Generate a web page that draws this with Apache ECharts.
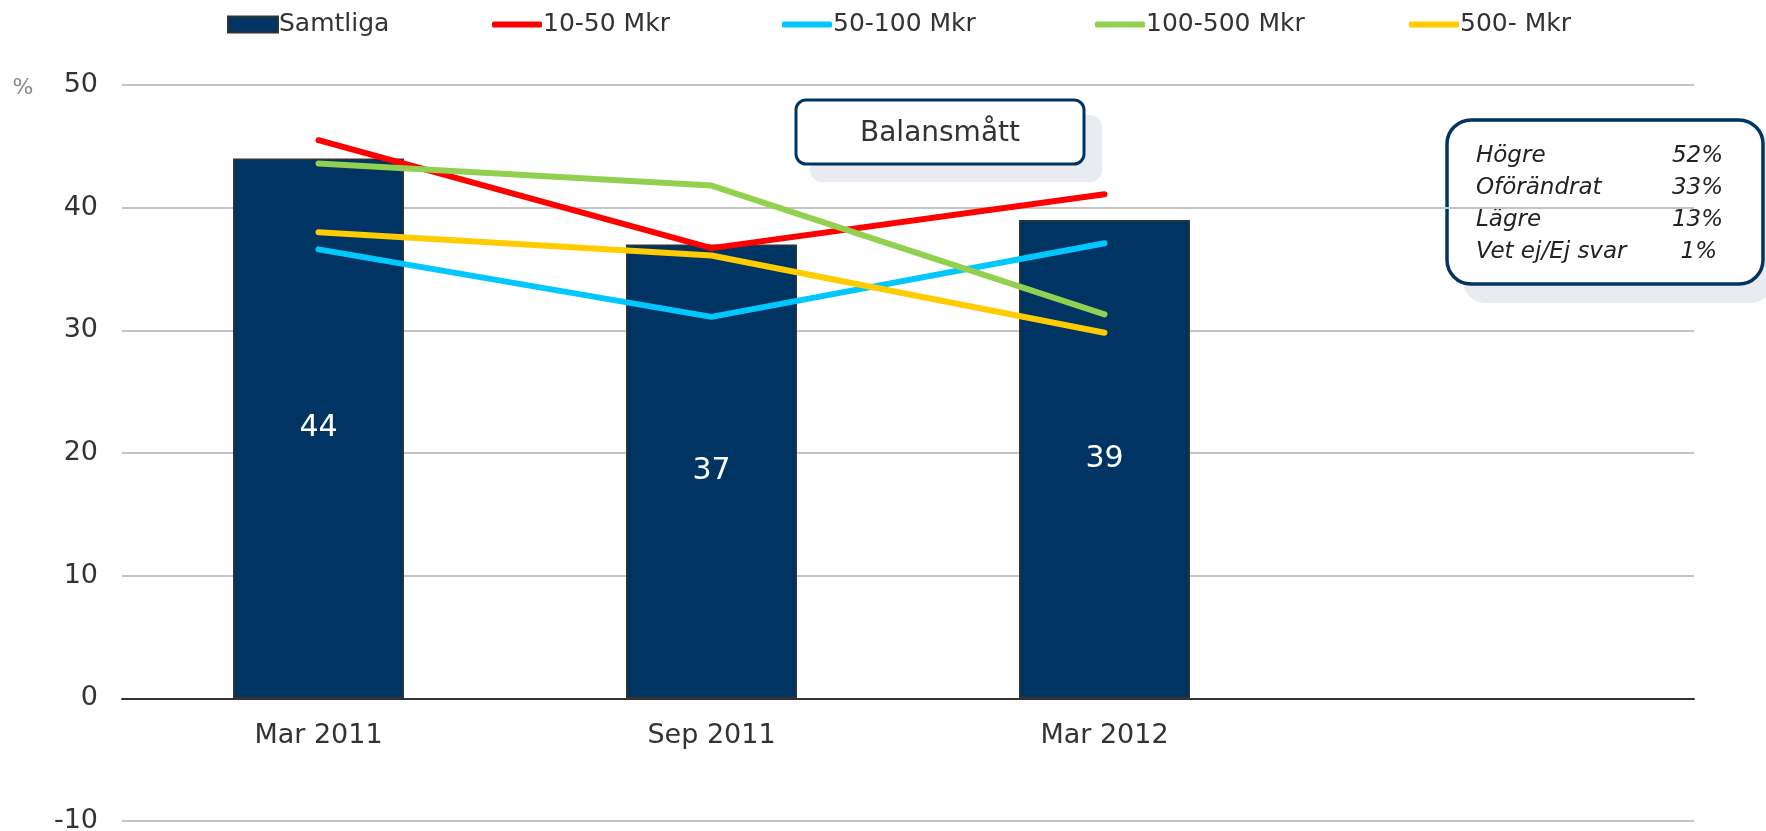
<!DOCTYPE html>
<html>
<head>
<meta charset="utf-8">
<script src="https://cdn.jsdelivr.net/npm/echarts@6/dist/echarts.min.js"></script>
<style>
  html, body { margin: 0; padding: 0; background: #fff; }
  #main { width: 1766px; height: 831px; }
</style>
</head>
<body>
<div id="main"></div>
<script>
var categories = ['Mar 2011', 'Sep 2011', 'Mar 2012', ''];
var samtliga = [44, 37, 39, '-'];
var mkr10_50 = [45.5, 36.7, 41.1, '-'];
var mkr50_100 = [36.6, 31.1, 37.1, '-'];
var mkr100_500 = [43.6, 41.8, 31.3, '-'];
var mkr500 = [38.0, 36.1, 29.8, '-'];
var yTicks = { min: -10, max: 50, interval: 10 };
var boxRows = [['Högre', '52%'], ['Oförändrat', '33%'], ['Lägre', '13%'], ['Vet ej/Ej svar', '1%']];

var font = 'DejaVu Sans';
var navy = '#003462';

function lineSeries(name, data, color) {
    return {
        name: name,
        type: 'line',
        data: data,
        showSymbol: false,
        symbol: 'none',
        z: 3,
        lineStyle: { color: color, width: 6, cap: 'round', join: 'round' },
        itemStyle: { color: color }
    };
}

function legendItem(name, left, isBar) {
    return {
        left: left,
        top: 7,
        data: [{ name: name, icon: isBar ? 'rect' : 'roundRect' }],
        itemWidth: 50,
        itemHeight: isBar ? 16 : 6,
        itemGap: 4,
        textStyle: { fontFamily: font, fontSize: 25, color: '#333', padding: [0, 0, 0, -4] }
    };
}

// annotation boxes
var graphics = [
    { type: 'rect', shape: { x: 810, y: 115, width: 292, height: 67, r: 12 }, style: { fill: '#e8ecf0' } },
    { type: 'rect', shape: { x: 796, y: 100, width: 288, height: 64, r: 10 }, style: { fill: '#fff', stroke: navy, lineWidth: 3 } },
    { type: 'text', x: 940, y: 134, style: { text: 'Balansmått', fontFamily: font, fontSize: 28, fill: '#333', align: 'center', verticalAlign: 'middle' } },
    { type: 'rect', shape: { x: 1463, y: 130, width: 310, height: 173, r: 22 }, style: { fill: '#e8ecf0' } },
    { type: 'rect', shape: { x: 1447, y: 120, width: 316, height: 164, r: 24 }, style: { fill: '#fff', stroke: navy, lineWidth: 3.5 } }
];
boxRows.forEach(function (row, i) {
    var y = 156 + i * 32;
    graphics.push({ type: 'text', x: 1476, y: y, style: { text: row[0], fontFamily: font, fontStyle: 'italic', fontSize: 23, fill: '#222', verticalAlign: 'middle' } });
    graphics.push({ type: 'text', x: i === 3 ? 1717 : 1723, y: y, style: { text: row[1], fontFamily: font, fontStyle: 'italic', fontSize: 23, fill: '#222', align: 'right', verticalAlign: 'middle' } });
});
graphics.push({ type: 'text', x: 23, y: 88, style: { text: '%', fontFamily: font, fontSize: 22, fill: '#888', align: 'center', verticalAlign: 'middle' } });

var option = {
    animation: false,
    backgroundColor: '#fff',
    legend: [
        legendItem('Samtliga', 222, true),
        legendItem('10-50 Mkr', 487, false),
        legendItem('50-100 Mkr', 777, false),
        legendItem('100-500 Mkr', 1090, false),
        legendItem('500- Mkr', 1404, false)
    ],
    grid: { left: 122, right: 72, top: 85, bottom: 10, containLabel: false, outerBoundsMode: 'none' },
    xAxis: [
        {
            type: 'category',
            data: categories,
            axisTick: { show: false },
            axisLine: { onZero: true, lineStyle: { color: '#333', width: 2 } },
            axisLabel: { show: false }
        },
        {
            // labels sit under the zero line
            type: 'category',
            data: categories,
            position: 'bottom',
            offset: -123,
            axisTick: { show: false },
            axisLine: { show: false },
            axisLabel: { fontFamily: font, fontSize: 27, color: '#333', margin: 24 }
        }
    ],
    yAxis: {
        type: 'value',
        min: yTicks.min,
        max: yTicks.max,
        interval: yTicks.interval,
        axisLine: { show: false },
        axisTick: { show: false },
        splitLine: { lineStyle: { color: '#c4c4c4', width: 2 } },
        axisLabel: { fontFamily: font, fontSize: 27, color: '#333', margin: 24 }
    },
    series: [
        {
            name: 'Samtliga',
            type: 'bar',
            data: samtliga,
            barWidth: '43.5%',
            z: 2,
            itemStyle: { color: navy, borderColor: '#333', borderWidth: 1.5 },
            label: { show: true, position: 'inside', color: '#fff', fontFamily: font, fontSize: 30 }
        },
        lineSeries('10-50 Mkr', mkr10_50, '#ff0000'),
        lineSeries('50-100 Mkr', mkr50_100, '#00c8ff'),
        lineSeries('100-500 Mkr', mkr100_500, '#92d050'),
        lineSeries('500- Mkr', mkr500, '#ffcc00')
    ],
    graphic: graphics
};

var myChart = echarts.init(document.getElementById('main'));
myChart.setOption(option);
</script>
</body>
</html>
